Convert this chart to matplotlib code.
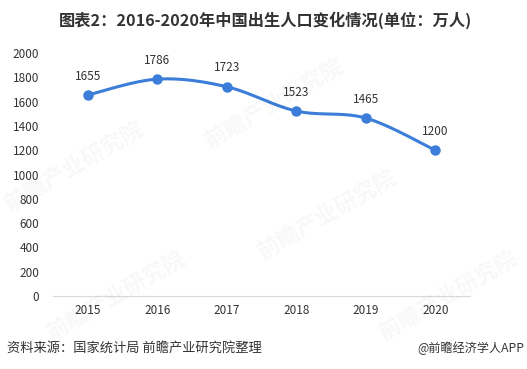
import numpy as np
import matplotlib
matplotlib.use("Agg")
import matplotlib.pyplot as plt

plt.rcParams['font.family'] = ['Noto Sans CJK SC', 'DejaVu Sans']

years = ["2015", "2016", "2017", "2018", "2019", "2020"]
births = [1655, 1786, 1723, 1523, 1465, 1200]
title = "图表2：2016-2020年中国出生人口变化情况(单位：万人)"
source = "资料来源：国家统计局 前瞻产业研究院整理"
credit = "@前瞻经济学人APP"
line_color = "#3B7DD8"


def smooth(x, y, n=30):
    # catmull-rom style curve through the points, like excel's smoothed line
    x = np.asarray(x, float)
    y = np.asarray(y, float)
    px = np.concatenate([[x[0]], x, [x[-1]]])
    py = np.concatenate([[y[0]], y, [y[-1]]])
    xs, ys = [], []
    t = np.linspace(0, 1, n)
    for i in range(1, len(px) - 2):
        p0, p1, p2, p3 = [np.array([px[j], py[j]]) for j in (i - 1, i, i + 1, i + 2)]
        c1 = p1 + (p2 - p0) / 6
        c2 = p2 - (p3 - p1) / 6
        b = ((1 - t) ** 3)[:, None] * p1 + (3 * (1 - t) ** 2 * t)[:, None] * c1 \
            + (3 * (1 - t) * t ** 2)[:, None] * c2 + (t ** 3)[:, None] * p2
        xs.extend(b[:, 0])
        ys.extend(b[:, 1])
    return xs, ys


fig = plt.figure(figsize=(5.27, 3.69), dpi=100)
ax = fig.add_axes([0.1006, 0.198, 0.7914, 0.658])

pos = np.arange(len(years))
sx, sy = smooth(pos, births)
ax.plot(sx, sy, color=line_color, lw=2.2, solid_capstyle="round")
ax.plot(pos, births, "o", color=line_color, ms=6.5)
for p, v in zip(pos, births):
    ax.annotate(str(v), (p, v), xytext=(0, 9), textcoords="offset points",
                ha="center", va="bottom", fontsize=8.5, color="#333333")

ax.set_xlim(-0.5, len(years) - 0.5)
ax.set_ylim(0, 2000)
ax.set_yticks(range(0, 2001, 200))
ax.set_xticks(pos)
ax.set_xticklabels(years)
ax.tick_params(length=0, labelsize=8.5, colors="#333333")
ax.tick_params(axis="y", pad=10)
ax.tick_params(axis="x", pad=6)
for s in ["top", "right", "left"]:
    ax.spines[s].set_visible(False)
ax.spines["bottom"].set_color("#D9D9D9")

# faint watermarks
for wx, wy in [(0.14, 0.55), (0.52, 0.72), (0.62, 0.42), (0.22, 0.2), (0.85, 0.2)]:
    fig.text(wx, wy, "前瞻产业研究院", fontsize=16, color="#000000", alpha=0.03,
             rotation=30, ha="center", va="center", fontweight="bold")

fig.text(0.503, 0.945, title, ha="center", va="center", fontsize=11.7,
         fontweight="bold", color="#333333")
fig.text(0.013, 0.055, source, ha="left", va="center", fontsize=9.5, color="#333333")
fig.text(0.995, 0.055, credit, ha="right", va="center", fontsize=8.7, color="#333333")

fig.savefig("out.png", dpi=100)
